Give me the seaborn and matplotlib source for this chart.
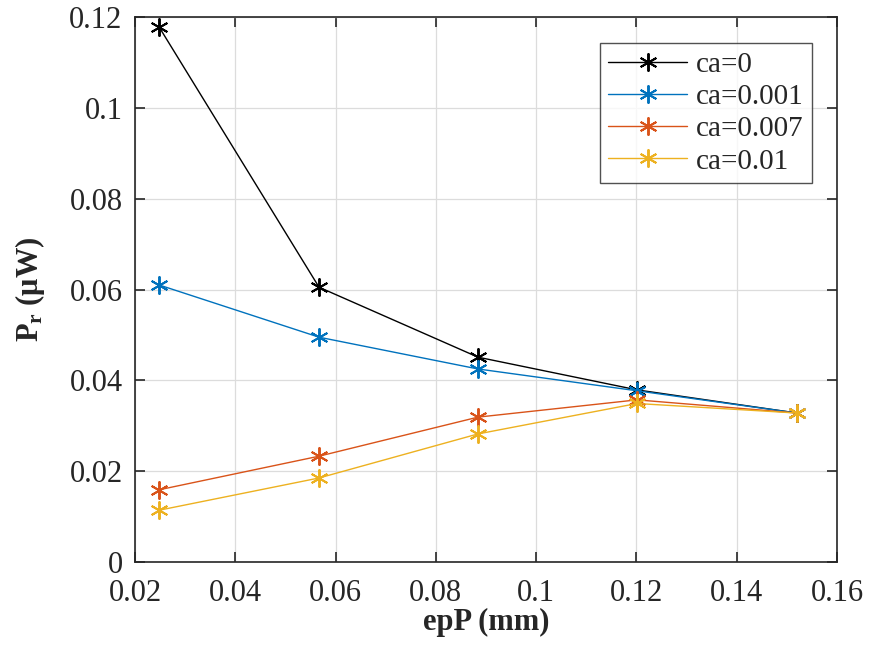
"""Output power versus epP for several ca values (MATLAB-style line chart)."""

import matplotlib

matplotlib.use("Agg")

import matplotlib.pyplot as plt
import pandas as pd
import seaborn as sns

ep_p = [0.0248, 0.0567, 0.0884, 0.1201, 0.1520]
series_names = ["ca=0", "ca=0.001", "ca=0.007", "ca=0.01"]
pr_ca0 = [0.1178, 0.0605, 0.0451, 0.0379, 0.0328]
pr_ca001 = [0.0610, 0.0495, 0.0425, 0.0377, 0.0328]
pr_ca007 = [0.0159, 0.0233, 0.0319, 0.0357, 0.0328]
pr_ca01 = [0.0114, 0.0185, 0.0282, 0.0349, 0.0328]
x_ticks = [0.02, 0.04, 0.06, 0.08, 0.1, 0.12, 0.14, 0.16]
y_ticks = [0, 0.02, 0.04, 0.06, 0.08, 0.1, 0.12]

colors = ["#000000", "#0072BD", "#D95319", "#EDB120"]
asterisk = (6, 2, 0)  # MATLAB-like '*' marker

sns.set_theme(style="ticks")
plt.rcParams["font.family"] = ["Liberation Serif", "DejaVu Serif"]
plt.rcParams["mathtext.fontset"] = "custom"
plt.rcParams["mathtext.rm"] = "Liberation Serif"
plt.rcParams["mathtext.bf"] = "Liberation Serif:bold"
plt.rcParams["mathtext.it"] = "Liberation Serif:italic"

frames = []
for name, values in zip(series_names, [pr_ca0, pr_ca001, pr_ca007, pr_ca01]):
    frames.append(pd.DataFrame({"epP": ep_p, "Pr": values, "series": name}))
data = pd.concat(frames, ignore_index=True)

fig = plt.figure(figsize=(8.69, 6.57), dpi=100)
ax = fig.add_axes([0.1554, 0.1446, 0.8078, 0.8295])

sns.lineplot(
    data=data,
    x="epP",
    y="Pr",
    hue="series",
    style="series",
    palette=colors,
    markers=[asterisk] * 4,
    dashes=False,
    markersize=13,
    markeredgewidth=1.4,
    linewidth=1.0,
    ax=ax,
)
# seaborn paints marker edges white; asterisks need the line colour
for line in ax.lines:
    line.set_markeredgecolor(line.get_color())

ax.set_xlim(0.02, 0.16)
ax.set_ylim(0, 0.12)
ax.set_xticks(x_ticks)
ax.set_yticks(y_ticks)
ax.set_xticklabels([f"{t:g}" for t in x_ticks])
ax.set_yticklabels([f"{t:g}" for t in y_ticks])
ax.grid(True, color="#dcdcdc", linewidth=0.9)
ax.set_axisbelow(True)
ax.tick_params(direction="in", length=7, width=1.2, labelsize=22,
               top=True, right=True, colors="#262626", labelcolor="#262626")
ax.tick_params(axis="x", pad=12)
ax.tick_params(axis="y", pad=9)
for spine in ax.spines.values():
    spine.set_visible(True)
    spine.set_linewidth(1.2)
    spine.set_color("#262626")

ax.set_xlabel("epP (mm)", fontsize=22, fontweight="bold", labelpad=0)
ax.set_ylabel(r"$\mathbf{P_r}$ (μW)", fontsize=22, fontweight="bold", labelpad=16)

legend = ax.legend(
    loc="upper right",
    bbox_to_anchor=(0.965, 0.953),
    fontsize=21,
    frameon=True,
    fancybox=False,
    edgecolor="#262626",
    handlelength=2.7,
    borderpad=0.3,
    labelspacing=0.2,
    handletextpad=0.3,
    borderaxespad=0.0,
)
legend.get_frame().set_linewidth(1.0)
for handle in legend.legend_handles:
    handle.set_markeredgecolor(handle.get_color())

fig.savefig("out.png", dpi=100)
plt.close(fig)
